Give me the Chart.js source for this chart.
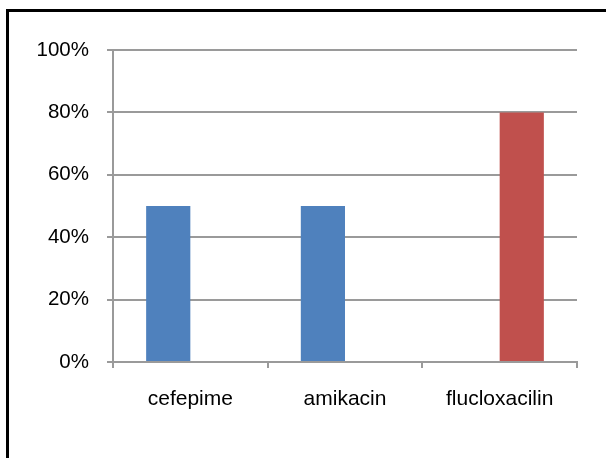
<!DOCTYPE html>
<html>
<head>
<meta charset="utf-8">
<script src="https://cdn.jsdelivr.net/npm/chart.js@4/dist/chart.umd.min.js"></script>
<style>
  html, body { margin: 0; padding: 0; background: #fff; overflow: hidden; }
  #wrap { position: relative; width: 606px; height: 458px; overflow: hidden; }
  #frame { position: absolute; left: 6px; top: 9px; width: 700px; height: 600px; border: 3px solid #000; box-sizing: border-box; }
  #c { position: absolute; left: 0; top: 0; }
</style>
</head>
<body>
<div id="wrap">
  <div id="frame"></div>
  <canvas id="c" width="606" height="458"></canvas>
</div>
<script>
// Antibiotics on the category axis
const categories = ['cefepime', 'amikacin', 'flucloxacilin'];
// Percentages per series (null = no bar in that slot)
const seriesBlue = [50, 50, null];
const seriesRed = [null, null, 80];
// Value axis ticks
const yTicks = [0, 20, 40, 60, 80, 100];

const gridGray = '#9a9a9a';
const family = 'Liberation Sans, Arial, sans-serif';

new Chart(document.getElementById('c'), {
  type: 'bar',
  data: {
    labels: categories,
    datasets: [
      { label: 'Series 1', data: seriesBlue, backgroundColor: '#4F81BD', borderWidth: 0 },
      { label: 'Series 2', data: seriesRed, backgroundColor: '#C0504D', borderWidth: 0 }
    ]
  },
  options: {
    responsive: false,
    animation: false,
    devicePixelRatio: 1,
    categoryPercentage: 2 / 3.5,
    barPercentage: 1,
    layout: { padding: { top: 50, right: 29, bottom: 0, left: 0 } },
    plugins: { legend: { display: false }, tooltip: { enabled: false } },
    scales: {
      x: {
        offset: true,
        grid: { display: true, drawOnChartArea: false, drawTicks: true, tickLength: 6, color: gridGray, lineWidth: 2, offset: true },
        border: { display: true, color: gridGray, width: 2 },
        ticks: { color: '#000', font: { family: family, size: 21 }, padding: 19, maxRotation: 0 },
        afterFit: s => { s.height = 96; }
      },
      y: {
        min: 0,
        max: 100,
        afterBuildTicks: s => { s.ticks = yTicks.map(v => ({ value: v })); },
        grid: { color: gridGray, lineWidth: 2, tickLength: 6 },
        border: { display: true, color: gridGray, width: 2 },
        ticks: { color: '#000', font: { family: family, size: 20.5 }, padding: 18, callback: v => v + '%' },
        afterFit: s => { s.width = 113; }
      }
    }
  }
});
</script>
</body>
</html>
